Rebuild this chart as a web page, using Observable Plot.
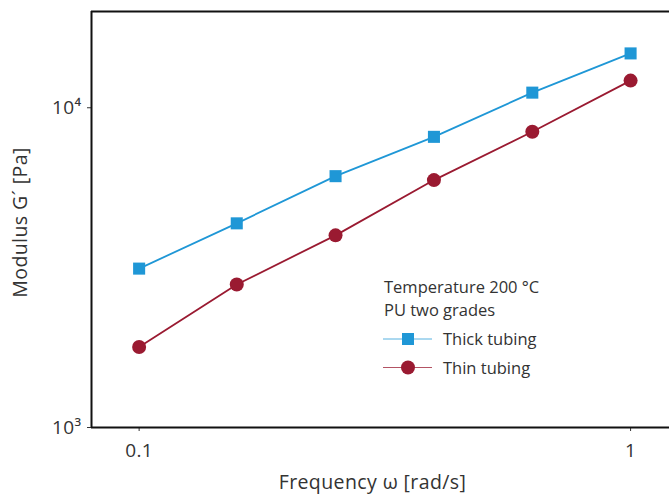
<!DOCTYPE html>
<html>
<head>
<meta charset="utf-8">
<script src="https://cdn.jsdelivr.net/npm/d3@7"></script>
<script src="https://cdn.jsdelivr.net/npm/@observablehq/plot@0.6"></script>
<style>
  html, body { margin: 0; padding: 0; background: #fff; }
  #wrap { position: relative; width: 669px; height: 495px; overflow: hidden; }
  #legend { position: absolute; left: 0; top: 0; pointer-events: none; }
  text { font-family: "Open Sans", Lato, sans-serif; }
</style>
</head>
<body>
<div id="wrap"></div>
<script>
const frequency = [0.1, 0.158, 0.251, 0.398, 0.631, 1.0];
const thickTubing = [3140, 4350, 6110, 8110, 11150, 14790];
const thinTubing = [1785, 2800, 3990, 5940, 8410, 12160];
const seriesNames = ["Thick tubing", "Thin tubing"];
const legendTitle = ["Temperature 200 °C", "PU two grades"];
const xLabel = ["Frequency ω [rad/s]"];
const yLabel = ["Modulus G´ [Pa]"];
const xTicks = [0.1, 1];
const yTicks = [1000, 10000];

const blue = "#1f97d6";
const red = "#9a1a31";
const textColor = "#333";
const font = '"Open Sans", Lato, sans-serif';

const thick = frequency.map((f, i) => ({f, g: thickTubing[i]}));
const thin = frequency.map((f, i) => ({f, g: thinTubing[i]}));

const sup = {"3": "³", "4": "⁴"};

const chart = Plot.plot({
  width: 669,
  height: 495,
  marginLeft: 91,
  marginRight: 0,
  marginTop: 11,
  marginBottom: 68,
  style: {fontFamily: font, fontSize: "19px", color: textColor, background: "#fff"},
  x: {type: "log", domain: [0.08, 1.2], ticks: xTicks, tickFormat: d => String(d), label: null, tickSize: 4, tickPadding: 12},
  y: {type: "log", domain: [1000, 20000], ticks: yTicks, tickFormat: d => "10" + sup[String(Math.round(Math.log10(d)))], label: null, tickSize: 4, tickPadding: 6},
  marks: [
    Plot.ruleY([1000], {stroke: "#111", strokeWidth: 2}),
    Plot.ruleY([20000], {stroke: "#111", strokeWidth: 2}),
    Plot.ruleX([0.08], {stroke: "#111", strokeWidth: 2}),
    Plot.line(thick, {x: "f", y: "g", stroke: blue, strokeWidth: 1.8}),
    Plot.line(thin, {x: "f", y: "g", stroke: red, strokeWidth: 1.8}),
    Plot.dot(thick, {x: "f", y: "g", symbol: "square", r: 6.8, fill: blue, stroke: "none"}),
    Plot.dot(thin, {x: "f", y: "g", symbol: "circle", r: 7, fill: red, stroke: "none"}),
    Plot.text(xLabel, {text: d => d, frameAnchor: "bottom", textAnchor: "middle", dx: -8, dy: 55, fontSize: 19.5, fill: textColor, lineAnchor: "middle"}),
    Plot.text(yLabel, {text: d => d, frameAnchor: "left", textAnchor: "middle", dx: -71, dy: 3, rotate: -90, fontSize: 19.5, fill: textColor, lineAnchor: "middle"})
  ]
});
chart.querySelectorAll("text").forEach(t => t.style.letterSpacing = "0.4px");
document.getElementById("wrap").appendChild(chart);

// legend overlay
const lg = d3.select("#wrap").append("svg").attr("id", "legend").attr("width", 669).attr("height", 495);
lg.selectAll("text.title").data(legendTitle).join("text")
  .attr("x", 384).attr("y", (d, i) => 293 + i * 23)
  .attr("font-size", 16.5).attr("fill", textColor).text(d => d);
const items = [{name: seriesNames[0], color: blue, sym: "square"}, {name: seriesNames[1], color: red, sym: "circle"}];
const g = lg.selectAll("g.item").data(items).join("g").attr("transform", (d, i) => `translate(0,${339 + i * 28.5})`);
g.append("line").attr("x1", 383).attr("x2", 432).attr("y1", 0).attr("y2", 0).attr("stroke", d => d.color).attr("stroke-width", 1).attr("opacity", 0.75);
g.filter(d => d.sym === "square").append("rect").attr("x", 402).attr("y", -6).attr("width", 12).attr("height", 12).attr("fill", d => d.color);
g.filter(d => d.sym === "circle").append("circle").attr("cx", 408).attr("cy", 0).attr("r", 7).attr("fill", d => d.color);
g.append("text").attr("x", 443).attr("y", 6).attr("font-size", 16.5).attr("fill", textColor).text(d => d.name);
</script>
</body>
</html>
